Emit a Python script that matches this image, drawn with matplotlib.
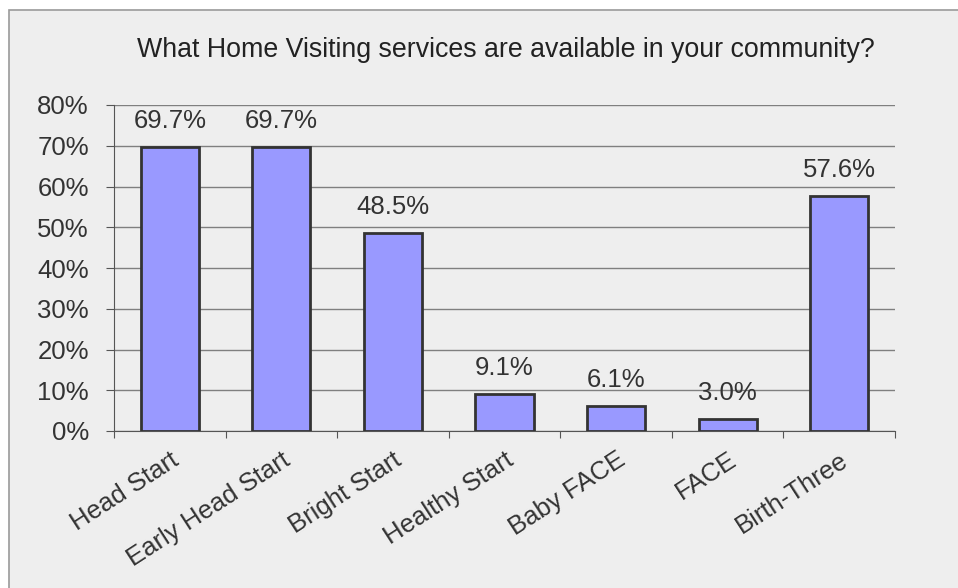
import matplotlib
matplotlib.use("Agg")
import matplotlib.pyplot as plt
from matplotlib.patches import Rectangle
from matplotlib.ticker import FuncFormatter, MultipleLocator
import numpy as np

categories = ["Head Start", "Early Head Start", "Bright Start", "Healthy Start",
              "Baby FACE", "FACE", "Birth-Three"]
values = [69.7, 69.7, 48.5, 9.1, 6.1, 3.0, 57.6]

plt.rcParams["font.family"] = ["Liberation Sans", "DejaVu Sans"]

W, H = 958, 588
fig = plt.figure(figsize=(W / 100, H / 100), dpi=100, facecolor="white")
# chart area background with grey border
fig.patches.append(Rectangle((9 / W, -0.01), 1.0, 1 - 10 / H + 0.01,
                             transform=fig.transFigure, facecolor="#eeeeee",
                             edgecolor="#9a9a9a", linewidth=1.2, zorder=-10))

ax = fig.add_axes([114 / W, 1 - 431 / H, (895 - 114) / W, (431 - 105) / H])
ax.set_facecolor("#eeeeee")
ax.set_zorder(5)

x = np.arange(len(categories))
ax.bar(x, values, width=0.52, color="#9999ff", edgecolor="#333333",
       linewidth=2, zorder=3)
for xi, v in zip(x, values):
    ax.annotate(f"{v:.1f}%", (xi, v), xytext=(0, 10), textcoords="offset points",
                ha="center", va="bottom", fontsize=18.5, color="#333333")

ax.set_xlim(-0.5, len(categories) - 0.5)
ax.set_ylim(0, 80)
ax.yaxis.set_major_locator(MultipleLocator(10))
ax.yaxis.set_major_formatter(FuncFormatter(lambda v, p: f"{v:.0f}%"))
ax.grid(axis="y", color="#7f7f7f", linewidth=1, zorder=0)
ax.set_axisbelow(True)

ax.set_xticks(np.arange(len(categories) + 1) - 0.5, minor=False)
ax.set_xticklabels([])
ax.set_xticks(x, minor=True)
ax.set_xticklabels(categories, minor=True, rotation=33, ha="right",
                   rotation_mode="anchor", fontsize=18.5, color="#333333")
ax.tick_params(axis="x", which="minor", length=0, pad=12)
ax.tick_params(axis="x", which="major", length=5, direction="out", color="#555555")
ax.tick_params(axis="y", length=6, direction="out", color="#555555",
               labelsize=18.5, labelcolor="#333333", pad=12)

for s in ["top", "right"]:
    ax.spines[s].set_visible(False)
ax.spines["left"].set_color("#555555")
ax.spines["bottom"].set_color("#555555")

fig.text(506 / W, 1 - 50 / H, "What Home Visiting services are available in your community?",
         ha="center", va="center", fontsize=19.3, color="#222222")

fig.savefig("out.png", dpi=100, facecolor=fig.get_facecolor())
